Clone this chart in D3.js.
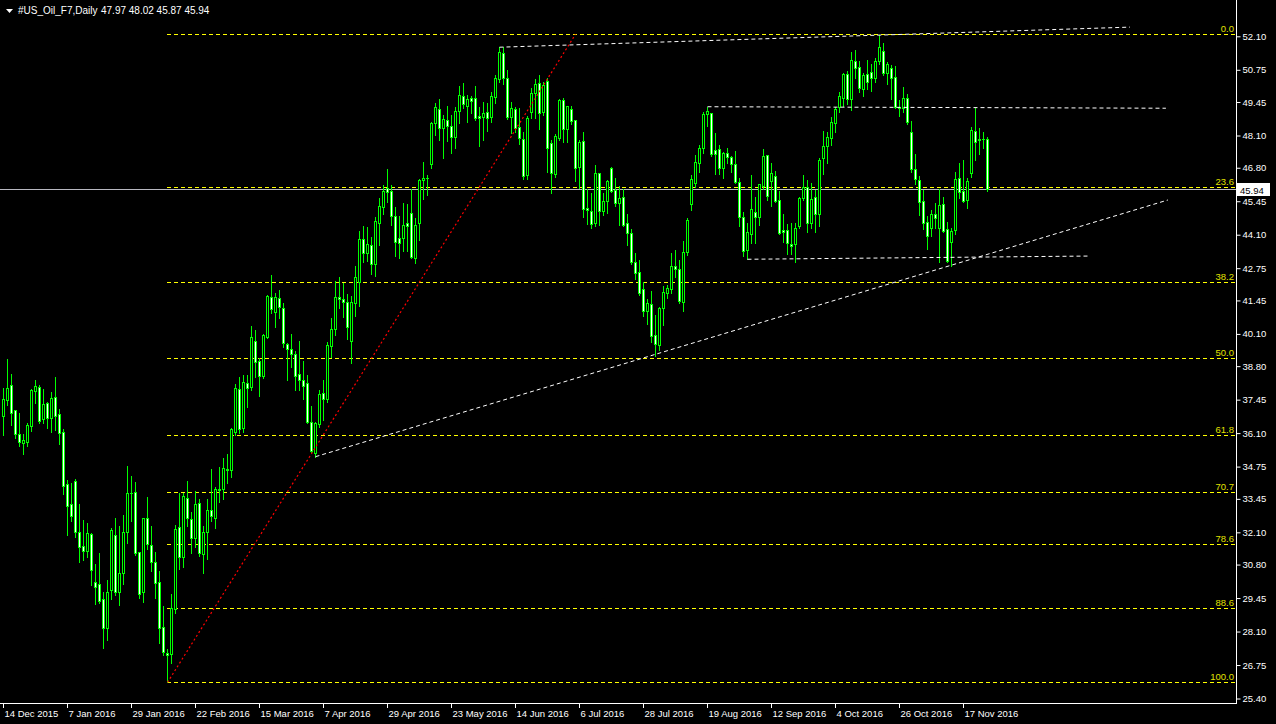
<!DOCTYPE html>
<html><head><meta charset="utf-8">
<script src="https://cdn.jsdelivr.net/npm/d3@7"></script>
<style>html,body{margin:0;padding:0;background:#000;} svg{display:block;}</style>
</head><body>
<svg id="chart" width="1276" height="724"></svg>
<script>
// ---------- DATA ----------
const symbolTitle = "#US_Oil_F7,Daily";
const headerOHLC = [47.97, 48.02, 45.87, 45.94];
const lastPrice = 45.94;

const opens = [36.80,37.43,38.03,37.02,36.05,35.71,35.75,36.40,37.81,37.95,36.66,37.33,36.72,37.54,36.86,36.14,34.03,33.24,34.17,32.10,
31.53,31.36,32.03,30.08,30.00,29.40,28.26,29.77,31.98,29.71,30.47,32.10,33.67,33.74,31.29,29.68,32.66,31.58,30.89,30.08,
28.27,27.22,27.18,28.99,32.30,31.09,33.47,32.62,31.86,33.27,31.23,32.13,33.00,32.66,33.80,33.83,34.65,34.60,36.16,37.88,
36.29,38.11,37.95,39.83,39.01,38.40,39.99,41.58,40.97,41.53,41.13,39.69,39.48,39.28,38.47,38.24,38.11,36.53,35.30,36.45,
37.70,37.46,39.63,40.28,41.57,41.49,41.37,39.83,41.36,42.21,43.93,43.38,43.68,42.92,44.59,45.23,45.97,45.86,44.85,43.95,
43.98,44.59,44.96,43.17,44.56,46.30,46.40,46.94,48.59,49.16,48.42,48.73,48.48,48.05,49.09,49.69,49.29,49.60,49.60,48.90,
48.86,49.03,48.86,49.67,50.37,51.41,50.43,48.83,49.15,48.43,47.96,46.51,49.06,49.80,50.20,49.06,50.30,47.78,46.55,47.99,
49.53,48.35,49.15,48.72,46.82,47.88,45.19,45.06,44.56,46.58,45.06,45.46,46.78,45.90,45.37,45.61,44.56,44.15,43.01,42.61,
41.90,41.04,41.29,40.06,39.65,41.13,41.76,41.91,42.84,42.70,41.40,43.42,45.33,46.20,46.98,47.58,48.95,48.99,47.52,47.56,
46.78,47.38,47.25,46.94,46.21,44.83,43.48,44.12,45.00,44.83,46.08,47.31,46.28,46.47,45.50,44.29,44.29,43.73,43.71,44.47,
45.59,46.04,44.59,45.61,44.92,47.18,47.69,47.99,48.62,49.26,49.63,50.57,49.57,51.10,50.85,49.96,50.57,50.65,50.43,51.10,
51.52,50.61,50.81,50.45,49.26,49.20,49.60,48.23,46.74,46.31,45.46,44.60,44.38,44.92,44.38,45.32,44.32,43.82,44.29,46.40,
45.86,45.50,46.58,48.30,47.92,47.96,47.97];
const highs = [37.91,39.09,38.48,37.03,36.90,36.06,36.49,37.87,38.24,38.04,37.87,37.37,37.76,38.35,37.06,36.25,34.21,34.07,34.24,33.24,
32.60,32.46,32.06,30.82,31.25,29.68,30.18,32.29,32.66,32.35,32.80,34.77,34.37,34.12,31.32,32.66,33.52,32.35,31.31,30.54,
29.13,27.38,29.61,32.38,33.70,33.70,34.17,32.93,33.77,33.43,32.35,33.44,34.65,33.93,34.75,35.11,35.27,36.29,38.08,38.36,
38.43,38.44,40.42,40.26,39.11,40.08,41.67,42.48,41.74,41.87,41.33,39.72,40.10,39.41,39.81,39.01,38.44,37.19,36.53,37.84,
38.24,39.79,40.73,42.23,42.41,42.14,41.70,41.63,42.84,44.25,44.45,44.40,43.99,44.83,45.59,46.10,46.75,46.10,45.23,44.85,
45.37,45.34,45.93,44.76,46.35,47.02,46.51,48.66,49.40,49.56,48.93,49.29,48.93,49.26,50.11,50.23,49.73,49.69,50.10,49.26,
49.44,49.40,49.87,50.54,51.66,51.66,50.74,49.44,49.26,49.19,48.23,48.90,50.00,50.36,50.54,50.27,50.43,47.92,48.16,49.57,
49.60,49.29,49.29,48.72,47.92,48.26,45.93,45.77,46.91,46.60,45.77,46.31,46.82,46.40,46.06,45.93,44.94,44.33,43.35,43.08,
42.18,41.49,41.83,40.86,41.20,42.03,42.07,43.38,43.48,43.08,43.85,44.79,46.51,47.31,47.72,49.03,49.26,48.99,48.21,47.72,
47.45,47.61,47.29,47.48,46.37,45.03,44.56,46.51,45.63,46.13,47.56,47.31,46.98,46.67,45.86,44.93,44.52,44.56,44.56,45.61,
46.51,46.31,46.17,45.90,47.18,48.28,48.23,48.83,49.26,49.84,50.61,50.70,51.45,51.55,51.10,50.61,51.15,50.97,51.24,52.17,
51.82,51.05,50.94,50.92,49.53,50.04,49.76,48.70,47.35,46.48,45.90,44.85,45.10,45.37,45.93,45.61,44.63,44.36,46.64,46.98,
47.11,46.40,48.46,49.20,48.42,48.26,48.02];
const lows = [36.02,37.23,36.43,35.89,35.59,35.26,35.58,36.19,37.33,36.52,36.52,36.29,36.14,36.23,35.66,33.64,31.99,32.57,31.92,30.92,
30.98,31.09,29.98,29.21,29.24,27.45,27.76,29.41,29.57,29.17,30.02,31.66,32.57,31.19,29.46,29.30,31.44,30.55,29.46,27.65,
27.15,26.05,26.84,28.83,30.61,30.71,32.35,31.25,31.52,31.14,30.47,31.01,32.57,32.26,33.31,33.46,34.10,34.32,36.02,36.09,
36.16,37.14,37.84,38.35,37.61,38.34,39.95,40.96,40.37,40.73,39.59,38.24,38.78,37.84,37.84,37.48,36.50,35.33,35.15,36.36,
36.63,37.37,39.18,40.06,41.16,40.77,39.89,38.94,40.82,41.22,43.01,43.05,42.52,42.45,43.68,44.92,45.43,44.49,43.24,43.17,
43.44,43.46,43.15,42.97,43.89,45.54,45.70,46.78,48.12,47.92,47.21,47.89,47.38,47.61,48.62,49.20,48.66,49.02,48.73,47.69,
47.92,48.30,48.66,49.40,50.27,50.18,48.77,48.19,48.26,47.76,46.35,46.35,48.79,48.82,48.36,48.93,46.64,45.80,46.44,47.92,
47.85,47.85,48.56,46.28,45.97,44.83,44.52,44.38,44.46,44.49,44.89,44.99,45.84,45.26,44.49,44.45,43.69,42.92,42.30,41.67,
40.84,40.50,39.79,39.21,39.45,40.46,41.53,41.74,42.41,41.36,41.02,43.28,45.10,46.04,46.64,47.38,48.50,47.29,46.55,46.55,
46.40,46.98,46.64,46.17,44.46,43.25,43.11,43.75,43.78,44.49,45.94,45.50,45.26,45.41,44.12,43.82,43.31,43.31,43.01,44.38,
45.50,44.22,44.38,44.22,44.47,46.55,47.01,47.72,48.23,49.06,49.30,49.37,49.13,50.43,49.84,49.71,49.98,49.91,50.27,50.97,
50.54,50.18,49.57,49.22,48.90,49.06,48.55,46.62,46.15,44.89,44.32,43.52,44.06,44.38,43.01,44.22,42.99,42.85,44.12,45.59,
45.43,45.16,46.44,47.11,47.35,47.58,45.87];
const closes = [37.46,37.91,36.92,36.05,35.75,35.82,36.43,37.84,38.00,36.60,37.27,36.72,37.50,36.80,36.09,33.98,33.17,32.77,32.13,31.52,
31.36,32.06,30.58,29.88,29.33,28.23,29.71,32.19,29.71,30.45,32.10,33.67,33.70,31.25,29.60,32.66,31.62,30.92,30.04,28.23,
27.26,27.17,29.03,32.23,31.12,33.56,32.66,31.86,33.23,31.28,32.13,33.00,32.77,33.83,33.85,34.68,34.61,36.27,37.91,36.25,
38.15,37.93,39.96,38.98,38.42,40.04,41.63,41.09,41.58,41.17,39.72,39.49,39.28,38.42,38.24,38.00,36.56,35.39,36.49,37.66,
37.46,39.65,40.28,41.57,41.49,41.40,40.36,41.40,42.38,43.93,43.38,43.71,42.92,44.65,45.27,45.86,45.84,44.87,43.82,43.78,
44.49,44.47,43.21,44.49,46.30,46.40,46.37,48.62,49.24,48.42,48.75,48.48,48.05,49.09,49.73,49.37,49.56,49.50,48.82,48.79,
49.02,48.82,49.69,50.40,51.48,50.43,48.86,49.19,48.42,47.99,46.48,48.82,49.80,50.16,48.99,50.14,47.58,46.57,48.08,49.53,
48.36,49.29,48.68,46.80,47.85,45.14,45.10,44.52,46.57,45.07,45.46,46.27,45.88,45.39,45.59,44.49,44.18,43.01,42.57,41.76,
41.04,41.36,40.03,39.68,41.13,41.78,41.94,42.84,42.70,41.43,43.39,44.69,46.33,47.05,47.58,48.97,49.09,47.35,47.35,46.78,
47.38,47.25,46.94,46.24,44.80,43.46,44.20,45.13,44.83,46.13,47.27,45.67,46.57,45.46,44.15,44.22,43.75,43.64,44.38,45.57,
46.04,44.56,45.53,44.92,47.11,47.68,48.03,48.63,49.17,49.69,50.57,49.56,51.15,50.84,50.00,50.54,50.27,50.43,51.10,51.66,
50.61,50.97,50.41,49.26,49.20,49.60,48.63,46.74,46.35,45.43,44.59,44.06,44.92,44.79,45.30,44.25,43.05,44.25,46.33,45.84,
45.47,46.27,48.32,47.85,47.94,47.97,45.94];

const dateLabels = ["14 Dec 2015","7 Jan 2016","29 Jan 2016","22 Feb 2016","15 Mar 2016","7 Apr 2016","29 Apr 2016","23 May 2016",
  "14 Jun 2016","6 Jul 2016","28 Jul 2016","19 Aug 2016","12 Sep 2016","4 Oct 2016","26 Oct 2016","17 Nov 2016"];
const dateLabelBars = [0,16,32,48,64,80,96,112,128,144,160,176,192,208,224,240];
const priceTicks = [52.10,50.75,49.45,48.10,46.80,45.45,44.10,42.75,41.45,40.10,38.80,37.45,36.10,34.75,33.45,32.10,30.80,29.45,28.10,26.75,25.40];

const fibLevels = [0.0, 23.6, 38.2, 50.0, 61.8, 70.7, 78.6, 88.6, 100.0];
const fibLowBar = 41, fibLowPrice = 26.05, fibHighBar = 143, fibHighPrice = 52.18;

const trendStartBars  = [124, 176, 186, 78];
const trendStartPrices= [51.66, 49.26, 43.11, 35.15];
const trendEndBars    = [281.6, 290.6, 271.6, 291.1];
const trendEndPrices  = [52.47, 49.20, 43.24, 45.50];

// ---------- DRAW ----------
const W = 1276, H = 724;
const plotRight = 1236, plotBottom = 703;
const svg = d3.select("#chart");
svg.append("rect").attr("width", W).attr("height", H).attr("fill", "#000");

const nBars = opens.length;
const x = d3.scaleLinear().domain([0, nBars - 1]).range([3.5, 3.5 + 4 * (nBars - 1)]);
const y = d3.scaleLinear().domain([25.40, 52.10]).range([698.5, 36.3]);
const FONT = "'Liberation Sans', Arial, sans-serif";

const clipId = "plotclip";
svg.append("clipPath").attr("id", clipId).append("rect")
  .attr("x", 0).attr("y", 0).attr("width", plotRight).attr("height", plotBottom);
const plot = svg.append("g").attr("clip-path", `url(#${clipId})`);

// Fibonacci levels
const fibRange = fibHighPrice - fibLowPrice;
const fibG = plot.append("g");
fibLevels.forEach(lv => {
  const p = fibHighPrice - fibRange * lv / 100;
  const yy = Math.round(y(p)) + 0.5;
  fibG.append("line").attr("x1", x(fibLowBar) - 1).attr("x2", plotRight)
    .attr("y1", yy).attr("y2", yy)
    .attr("stroke", "#ffff00").attr("stroke-width", 1).attr("stroke-dasharray", "4,3")
    .attr("shape-rendering", "crispEdges");
  fibG.append("text").attr("x", plotRight - 2).attr("y", yy - 3)
    .attr("text-anchor", "end").attr("fill", "#e0e000")
    .attr("font-family", FONT).attr("font-size", 9.5).text(lv.toFixed(1));
});

// bid line
const bidY = Math.round(y(lastPrice)) + 0.5;
plot.append("line").attr("x1", 0).attr("x2", plotRight).attr("y1", bidY).attr("y2", bidY)
  .attr("stroke", "#b8b8c0").attr("stroke-width", 1).attr("shape-rendering", "crispEdges");

// candles
const cg = plot.append("g");
for (let i = 0; i < nBars; i++) {
  const cx = x(i);
  const o = opens[i], h = highs[i], l = lows[i], c = closes[i];
  const yH = Math.round(y(h)), yL = Math.round(y(l));
  cg.append("line").attr("x1", cx).attr("x2", cx).attr("y1", yH).attr("y2", yL + 1)
    .attr("stroke", "#00ff00").attr("stroke-width", 1).attr("shape-rendering", "crispEdges");
  const yT = Math.round(y(Math.max(o, c))) + 0.5, yB = Math.round(y(Math.min(o, c))) + 0.5;
  if (yB - yT < 1) {
    cg.append("line").attr("x1", cx - 1.5).attr("x2", cx + 1.5).attr("y1", yT).attr("y2", yT)
      .attr("stroke", "#00ff00").attr("stroke-width", 1).attr("shape-rendering", "crispEdges");
  } else {
    cg.append("rect").attr("x", cx - 1).attr("width", 2).attr("y", yT).attr("height", yB - yT)
      .attr("fill", c < o ? "#ffffff" : "#000000")
      .attr("stroke", "#00ff00").attr("stroke-width", 1).attr("shape-rendering", "crispEdges");
  }
}

// trend lines (white dashed)
trendStartBars.forEach((b, k) => {
  plot.append("line")
    .attr("x1", x(b)).attr("y1", y(trendStartPrices[k]))
    .attr("x2", x(trendEndBars[k])).attr("y2", y(trendEndPrices[k]))
    .attr("stroke", "#ffffff").attr("stroke-width", 1).attr("stroke-dasharray", "4,3");
});

// fib diagonal (red dotted)
plot.append("line")
  .attr("x1", x(fibLowBar)).attr("y1", y(fibLowPrice))
  .attr("x2", x(fibHighBar)).attr("y2", y(fibHighPrice))
  .attr("stroke", "#ff0000").attr("stroke-width", 1.2).attr("stroke-dasharray", "2,2.5");

// axes frame
svg.append("line").attr("x1", plotRight + 0.5).attr("x2", plotRight + 0.5).attr("y1", 0).attr("y2", plotBottom + 1)
  .attr("stroke", "#fff").attr("shape-rendering", "crispEdges");
svg.append("line").attr("x1", 0).attr("x2", plotRight + 1).attr("y1", plotBottom + 0.5).attr("y2", plotBottom + 0.5)
  .attr("stroke", "#fff").attr("shape-rendering", "crispEdges");

// right price axis
const yAxis = d3.axisRight(y).tickValues(priceTicks).tickFormat(d3.format(".2f")).tickSize(4).tickPadding(2);
const ya = svg.append("g").attr("transform", `translate(${plotRight + 0.5},0)`).call(yAxis);
ya.select(".domain").remove();
ya.selectAll("line").attr("stroke", "#fff");
ya.selectAll("text").attr("fill", "#fff").attr("font-family", FONT).attr("font-size", 9.5);

// bottom time axis
const xa = svg.append("g").attr("transform", `translate(0,${plotBottom + 0.5})`);
dateLabelBars.forEach((b, k) => {
  const xx = x(b);
  xa.append("line").attr("x1", xx).attr("x2", xx).attr("y1", 0).attr("y2", 4).attr("stroke", "#fff")
    .attr("shape-rendering", "crispEdges");
  xa.append("text").attr("x", xx + 1).attr("y", 13.5).attr("fill", "#fff")
    .attr("font-family", FONT).attr("font-size", 9.5).text(dateLabels[k]);
});

// last price box
const bx = svg.append("g");
bx.append("rect").attr("x", plotRight + 1).attr("y", bidY - 6.5).attr("width", 33).attr("height", 13).attr("fill", "#fff");
bx.append("text").attr("x", plotRight + 4).attr("y", bidY + 4).attr("fill", "#000")
  .attr("font-family", FONT).attr("font-size", 9.5).text(lastPrice.toFixed(2));

// header
svg.append("path").attr("d", "M6,9 L13,9 L9.5,13 Z").attr("fill", "#fff");
svg.append("text").attr("x", 18).attr("y", 13.5).attr("fill", "#fff")
  .attr("font-family", FONT).attr("font-size", 10).text(symbolTitle);
svg.append("text").attr("x", 101).attr("y", 13.5).attr("fill", "#fff")
  .attr("font-family", FONT).attr("font-size", 10)
  .text(headerOHLC.map(v => v.toFixed(2)).join(" "));
</script>
</body></html>
